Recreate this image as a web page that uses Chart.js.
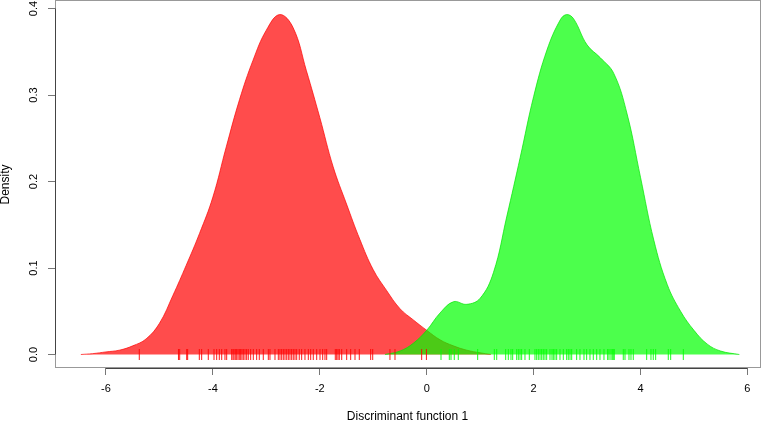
<!DOCTYPE html>
<html>
<head>
<meta charset="utf-8">
<script src="https://cdn.jsdelivr.net/npm/chart.js@4/dist/chart.umd.min.js"></script>
<style>
  html, body { margin: 0; padding: 0; background: #fff; }
</style>
</head>
<body>
<canvas id="densityChart" width="767" height="423"></canvas>
<script>
// density of group 1 (red)
const redX = [-6.47, -6.25, -6.0, -5.75, -5.5, -5.25, -5.0, -4.75, -4.5, -4.25, -4.0, -3.75, -3.5, -3.25, -3.0, -2.75, -2.5, -2.25, -2.0, -1.75, -1.5, -1.25, -1.0, -0.75, -0.5, -0.25, 0, 0.25, 0.5, 0.75, 1.0, 1.2];
const redY = [0, 0.001, 0.003, 0.005, 0.01, 0.018, 0.036, 0.068, 0.103, 0.14, 0.182, 0.24, 0.295, 0.34, 0.375, 0.393, 0.378, 0.328, 0.274, 0.217, 0.174, 0.133, 0.098, 0.074, 0.053, 0.04, 0.028, 0.017, 0.01, 0.005, 0.002, 0];

// density of group 2 (green)
const greenX = [-0.78, -0.5, -0.25, 0, 0.25, 0.5, 0.75, 1.0, 1.25, 1.5, 1.75, 2.0, 2.25, 2.5, 2.62, 2.75, 3.0, 3.25, 3.5, 3.75, 4.0, 4.25, 4.5, 4.75, 5.0, 5.25, 5.5, 5.85];
const greenY = [0, 0.004, 0.013, 0.028, 0.048, 0.061, 0.058, 0.065, 0.095, 0.16, 0.228, 0.298, 0.352, 0.387, 0.393, 0.388, 0.358, 0.343, 0.325, 0.278, 0.205, 0.132, 0.081, 0.05, 0.028, 0.012, 0.004, 0];

// rug values
const redRug = [-5.377, -4.644, -4.621, -4.49, -4.472, -4.254, -4.21, -4.086, -3.979, -3.929, -3.88, -3.835, -3.774, -3.742, -3.648, -3.624, -3.605, -3.581, -3.555, -3.53, -3.506, -3.48, -3.456, -3.431, -3.399, -3.368, -3.338, -3.293, -3.244, -3.181, -3.132, -3.057, -2.963, -2.932, -2.838, -2.776, -2.745, -2.713, -2.683, -2.651, -2.619, -2.589, -2.558, -2.526, -2.496, -2.464, -2.432, -2.384, -2.339, -2.277, -2.215, -2.17, -2.122, -2.058, -1.996, -1.946, -1.903, -1.871, -1.71, -1.684, -1.659, -1.635, -1.59, -1.497, -1.422, -1.341, -1.261, -1.048, -1.01, -0.687, -0.593, -0.094, -0.005];
const greenRug = [0.268, 0.423, 0.455, 0.516, 0.591, 0.954, 1.265, 1.31, 1.478, 1.527, 1.577, 1.609, 1.684, 1.714, 1.746, 1.777, 1.839, 1.92, 2.026, 2.058, 2.088, 2.12, 2.152, 2.181, 2.213, 2.245, 2.307, 2.344, 2.369, 2.4, 2.432, 2.494, 2.556, 2.619, 2.649, 2.681, 2.713, 2.806, 2.868, 2.943, 2.993, 3.055, 3.117, 3.181, 3.242, 3.317, 3.386, 3.411, 3.448, 3.472, 3.491, 3.51, 3.678, 3.71, 3.785, 3.822, 3.865, 4.116, 4.196, 4.239, 4.284, 4.52, 4.565, 4.801];

const xTicks = [-6, -4, -2, 0, 2, 4, 6];
const yTicks = [0, 0.1, 0.2, 0.3, 0.4];

Chart.defaults.font.family = "'Liberation Sans', Arial, sans-serif";
Chart.defaults.font.size = 11;
Chart.defaults.color = "#000";

const toPoints = function (xs, ys) {
  return xs.map((x, i) => ({ x: x, y: ys[i] }));
};

// R-like box and axis lines
const rBox = {
  id: "rBox",
  afterDraw(chart) {
    const { ctx, chartArea: a, scales } = chart;
    ctx.save();
    ctx.lineWidth = 1;
    ctx.strokeStyle = "#999";
    ctx.strokeRect(a.left + 0.5, a.top - 0.5, a.right - a.left, a.bottom - a.top);
    ctx.strokeStyle = "#444";
    ctx.beginPath();
    ctx.moveTo(a.left + 0.5, scales.y.getPixelForValue(yTicks[0]));
    ctx.lineTo(a.left + 0.5, scales.y.getPixelForValue(yTicks[yTicks.length - 1]));
    ctx.moveTo(scales.x.getPixelForValue(xTicks[0]), a.bottom + 0.5);
    ctx.lineTo(scales.x.getPixelForValue(xTicks[xTicks.length - 1]), a.bottom + 0.5);
    ctx.stroke();
    ctx.restore();
  },
};

new Chart(document.getElementById("densityChart"), {
  type: "line",
  data: {
    datasets: [
      {
        label: "rug 1",
        type: "scatter",
        order: 0,
        data: redRug.map((x) => ({ x: x, y: 0 })),
        pointStyle: "line",
        rotation: 90,
        pointRadius: 5.5,
        borderColor: "rgba(255, 0, 0, 0.9)",
        borderWidth: 1,
      },
      {
        label: "rug 2",
        type: "scatter",
        order: 0,
        data: greenRug.map((x) => ({ x: x, y: 0 })),
        pointStyle: "line",
        rotation: 90,
        pointRadius: 5.5,
        borderColor: "rgba(0, 255, 0, 0.9)",
        borderWidth: 1,
      },
      {
        label: "group 2",
        order: 1,
        data: toPoints(greenX, greenY),
        fill: "origin",
        backgroundColor: "rgba(0, 255, 0, 0.7)",
        borderColor: "rgba(0, 230, 0, 0.7)",
        borderWidth: 1,
        pointRadius: 0,
        tension: 0.4,
      },
      {
        label: "group 1",
        order: 2,
        data: toPoints(redX, redY),
        fill: "origin",
        backgroundColor: "rgba(255, 0, 0, 0.7)",
        borderColor: "rgba(255, 0, 0, 0.7)",
        borderWidth: 1,
        pointRadius: 0,
        tension: 0.4,
      },
    ],
  },
  options: {
    responsive: false,
    animation: false,
    layout: {
      autoPadding: false,
      padding: { top: 1, right: 7, left: 0, bottom: 0 },
    },
    plugins: {
      legend: { display: false },
      tooltip: { enabled: false },
    },
    scales: {
      x: {
        type: "linear",
        min: -6.954,
        max: 6.236,
        afterBuildTicks: (scale) => {
          scale.ticks = xTicks.map((v) => ({ value: v }));
        },
        afterFit: (scale) => {
          scale.height = 55;
          scale.paddingLeft = 0;
          scale.paddingRight = 0;
        },
        ticks: {
          padding: 7,
          maxRotation: 0,
          callback: (v) => String(v),
        },
        grid: {
          drawOnChartArea: false,
          drawTicks: true,
          tickLength: 7,
          color: "#777",
        },
        border: { display: false },
        title: {
          display: true,
          text: "Discriminant function 1",
          padding: { top: 0, bottom: 0 },
          font: { size: 12, lineHeight: 1.1 },
        },
      },
      y: {
        type: "linear",
        min: -0.0156,
        max: 0.4087,
        afterBuildTicks: (scale) => {
          scale.ticks = yTicks.map((v) => ({ value: v }));
        },
        afterFit: (scale) => {
          scale.width = 55;
          scale.paddingTop = 0;
          scale.paddingBottom = 0;
        },
        ticks: {
          padding: 6,
          minRotation: 90,
          maxRotation: 90,
          crossAlign: "center",
          callback: (v) => v.toFixed(1),
        },
        grid: {
          drawOnChartArea: false,
          drawTicks: true,
          tickLength: 7,
          color: "#777",
        },
        border: { display: false },
        title: {
          display: true,
          text: "Density",
          padding: { top: 0, bottom: 0 },
          font: { size: 12, lineHeight: 1.0 },
        },
      },
    },
  },
  plugins: [rBox],
});
</script>
</body>
</html>
